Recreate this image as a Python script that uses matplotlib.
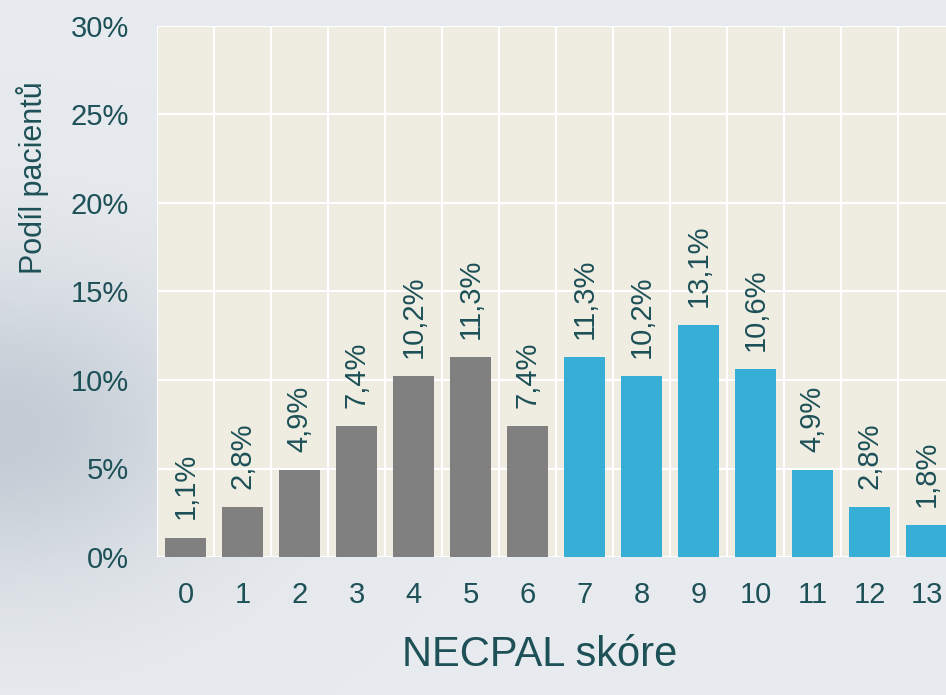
import matplotlib
matplotlib.use("Agg")
import matplotlib.pyplot as plt
import numpy as np
from matplotlib.colors import LinearSegmentedColormap

plt.rcParams['font.family'] = ['Liberation Sans', 'DejaVu Sans']

scores = [0, 1, 2, 3, 4, 5, 6, 7, 8, 9, 10, 11, 12, 13]
shares = [1.1, 2.8, 4.9, 7.4, 10.2, 11.3, 7.4, 11.3, 10.2, 13.1, 10.6, 4.9, 2.8, 1.8]
labels = ['1,1%', '2,8%', '4,9%', '7,4%', '10,2%', '11,3%', '7,4%',
          '11,3%', '10,2%', '13,1%', '10,6%', '4,9%', '2,8%', '1,8%']
yticks = [0, 5, 10, 15, 20, 25, 30]

text_col = '#1d5157'
gray_col = '#808080'
blue_col = '#37aed5'
colors = [gray_col if s <= 6 else blue_col for s in scores]

fig = plt.figure(figsize=(9.46, 6.95), dpi=100)
fig.patch.set_facecolor('#e6e9ed')

# misty background
bg = fig.add_axes([0, 0, 1, 1], zorder=-10)
yy, xx = np.mgrid[0:1:200j, 0:1:300j]
fog = np.exp(-((xx - 0.0) / 0.22) ** 2 - ((yy - 0.38) / 0.22) ** 2)
cmap = LinearSegmentedColormap.from_list('fog', ['#e7eaee', '#c3ccd5'])
bg.imshow(fog, cmap=cmap, aspect='auto', extent=[0, 1, 0, 1], origin='lower')
bg.axis('off')

ax = fig.add_axes([157 / 946, 1 - 557 / 695, 798 / 946, 531 / 695])
ax.set_facecolor('#efece2')
ax.bar(scores, shares, width=0.72, color=colors, zorder=3)

for s, v, lab in zip(scores, shares, labels):
    ax.annotate(lab, (s, v), xytext=(0, 13), textcoords='offset points',
                rotation=90, ha='center', va='bottom', fontsize=21,
                color=text_col, zorder=4)

ax.set_xlim(-0.5, 13.5)
ax.set_ylim(0, 30)
ax.set_yticks(yticks)
ax.set_yticklabels([f'{t}%' for t in yticks])
ax.set_xticks(scores)
ax.grid(False)
for t in yticks:
    ax.axhline(t, color='white', lw=1.5, zorder=1)
for b in np.arange(-0.5, 14, 1):
    ax.axvline(b, color='white', lw=1.5, zorder=1)
ax.tick_params(axis='both', which='both', length=0, labelsize=21,
               colors=text_col)
ax.tick_params(axis='y', pad=20)
ax.tick_params(axis='x', pad=17)
for sp in ax.spines.values():
    sp.set_visible(False)

fig.text(33 / 946, 1 - 178 / 695, 'Podíl pacientů', rotation=90,
         ha='center', va='center', fontsize=22, color=text_col)
fig.text(540 / 946, 1 - 655 / 695, 'NECPAL skóre', ha='center',
         va='center', fontsize=30, color=text_col)

fig.savefig('out.png', dpi=100, facecolor=fig.get_facecolor())
